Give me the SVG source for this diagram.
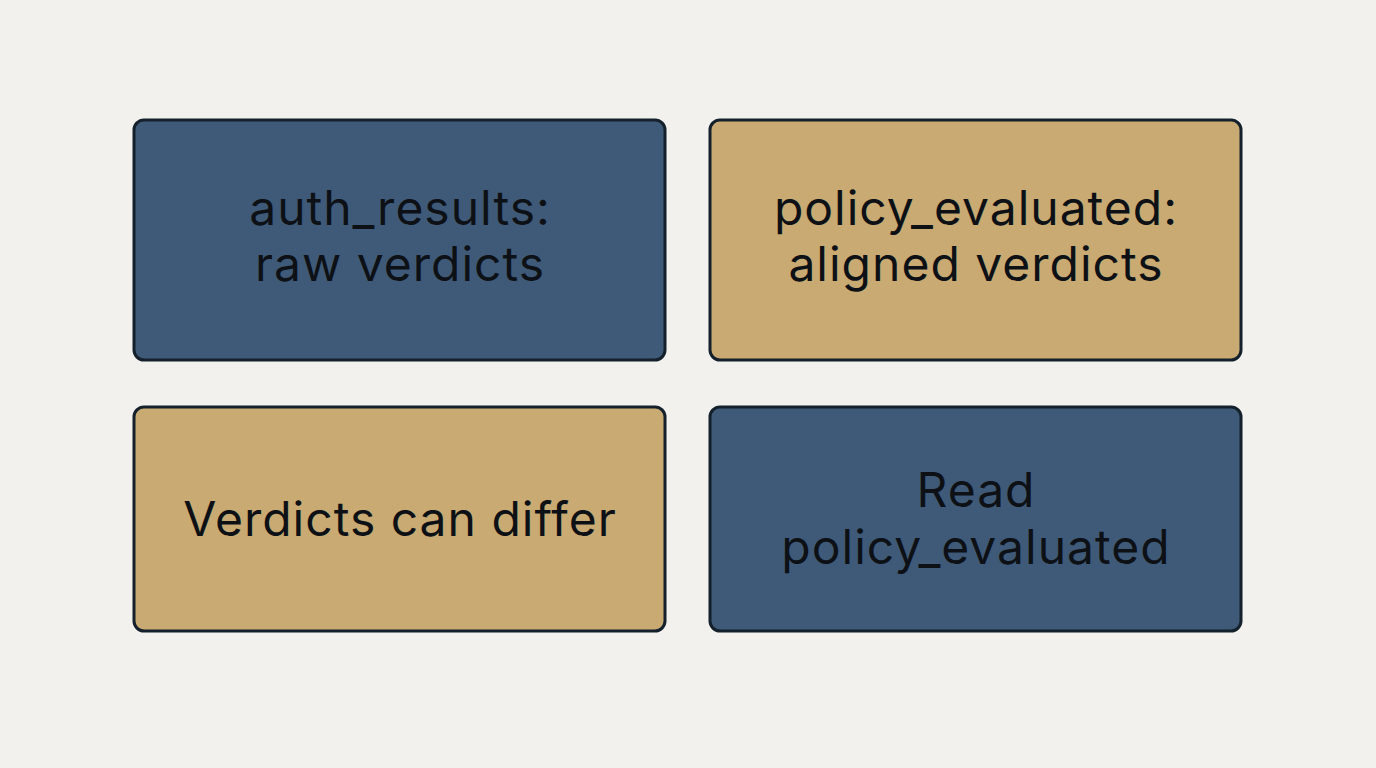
<svg xmlns="http://www.w3.org/2000/svg" width="1376" height="768" viewBox="0 0 1376 768">
<style>
.box{stroke:#14202b;stroke-width:3}
.blue{fill:#3f5a78}
.tan{fill:#c8aa72}
text{font-family:Inter,"Liberation Sans",sans-serif;font-size:48px;fill:#0d1116;text-anchor:middle;letter-spacing:1px}
</style>
<rect width="1376" height="768" fill="#f2f1ee"/>
<g id="n1"><rect class="box blue" x="134" y="120" width="531" height="240" rx="10"/><text x="400" y="225">auth_results:</text><text x="400" y="281">raw verdicts</text></g>
<g id="n2"><rect class="box tan" x="710" y="120" width="531" height="240" rx="10"/><text x="976" y="225">policy_evaluated:</text><text x="976" y="281">aligned verdicts</text></g>
<g id="n3"><rect class="box tan" x="134" y="407" width="531" height="224" rx="10"/><text x="400" y="536">Verdicts can differ</text></g>
<g id="n4"><rect class="box blue" x="710" y="407" width="531" height="224" rx="10"/><text x="976" y="507">Read</text><text x="976" y="564">policy_evaluated</text></g>
<g id="connectors"/>
</svg>
